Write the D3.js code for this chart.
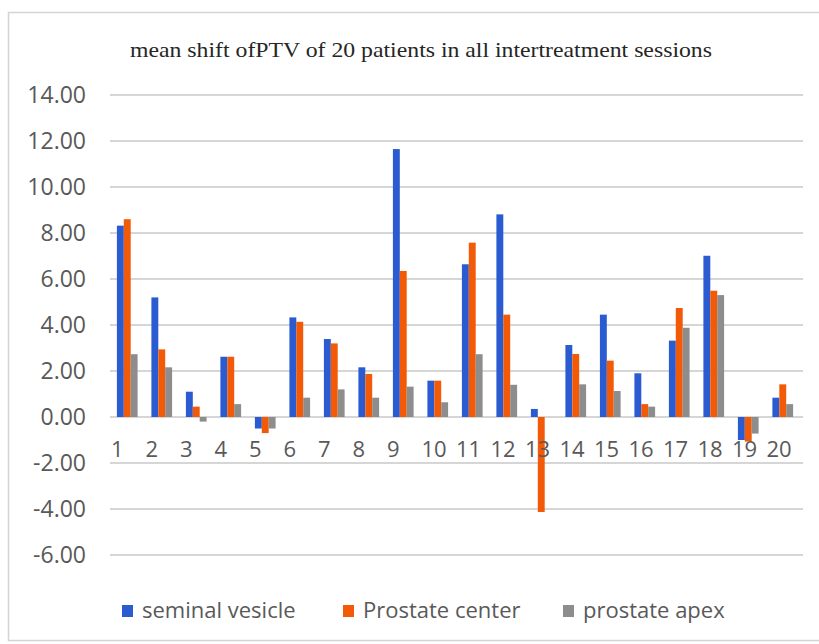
<!DOCTYPE html>
<html>
<head>
<meta charset="utf-8">
<script src="https://cdn.jsdelivr.net/npm/d3@7"></script>
<style>
  html, body { margin: 0; padding: 0; background: #ffffff; }
  svg { display: block; }
</style>
</head>
<body>
<svg id="chart" width="819" height="644"></svg>
<script>
// ---- data ----
const titleText = "mean shift ofPTV of 20 patients in all intertreatment sessions";
const categories = ["1","2","3","4","5","6","7","8","9","10","11","12","13","14","15","16","17","18","19","20"];
const seriesNames = ["seminal vesicle", "Prostate center", "prostate apex"];
const seminalVesicle = [8.32, 5.20, 1.10, 2.62, -0.50, 4.33, 3.39, 2.16, 11.65, 1.58, 6.64, 8.81, 0.35, 3.13, 4.45, 1.90, 3.32, 7.01, -1.00, 0.84];
const prostateCenter = [8.60, 2.94, 0.45, 2.62, -0.70, 4.14, 3.20, 1.87, 6.35, 1.58, 7.58, 4.45, -4.13, 2.74, 2.45, 0.56, 4.74, 5.49, -1.07, 1.42];
const prostateApex   = [2.73, 2.16, -0.20, 0.56, -0.50, 0.84, 1.20, 0.84, 1.32, 0.64, 2.73, 1.40, 0.00, 1.42, 1.13, 0.45, 3.88, 5.30, -0.72, 0.56];
const yTicks = [-6, -4, -2, 0, 2, 4, 6, 8, 10, 12, 14];
const colors = ["#2a5bd0", "#f25a07", "#8d8d8d"];

const seriesValues = [seminalVesicle, prostateCenter, prostateApex];

// ---- layout ----
const svg = d3.select("#chart");
const plot = { left: 110, right: 803, top: 95, bottom: 555 };

// frame
svg.append("rect")
  .attr("x", 8.5).attr("y", 12.5)
  .attr("width", 830).attr("height", 628)
  .attr("fill", "#ffffff")
  .attr("stroke", "#d4d4d4").attr("stroke-width", 1.5);

// title
svg.append("text")
  .attr("x", 130).attr("y", 57)
  .attr("font-family", "'Liberation Serif', 'Times New Roman', serif")
  .attr("font-size", 21)
  .attr("fill", "#262626")
  .attr("textLength", 582)
  .attr("lengthAdjust", "spacingAndGlyphs")
  .text(titleText);

const x = d3.scaleBand()
  .domain(categories)
  .range([plot.left, plot.right - 3])
  .paddingInner(0.4)
  .paddingOuter(0.2);

const xInner = d3.scaleBand()
  .domain(d3.range(seriesNames.length))
  .range([0, x.bandwidth()]);

const y = d3.scaleLinear()
  .domain([-6, 14])
  .range([plot.bottom, plot.top]);

// gridlines
svg.append("g")
  .selectAll("line")
  .data(yTicks)
  .join("line")
  .attr("x1", plot.left).attr("x2", plot.right)
  .attr("y1", d => y(d)).attr("y2", d => y(d))
  .attr("stroke", "#c8c8c8").attr("stroke-width", 1.5);

// y axis labels (hyphen minus, as in the reference)
const fmt = d3.format(".2f");
const yAxis = d3.axisLeft(y).tickValues(yTicks)
  .tickFormat(d => fmt(d).replace("\u2212", "-"))
  .tickSize(0).tickPadding(0);
const gy = svg.append("g").attr("transform", "translate(86,0)").call(yAxis);
gy.select(".domain").remove();
gy.selectAll("text")
  .attr("font-family", "'Open Sans', sans-serif")
  .attr("font-size", 23)
  .attr("fill", "#595959");

// bars
const groups = svg.append("g")
  .selectAll("g")
  .data(categories)
  .join("g")
  .attr("transform", d => `translate(${x(d)},0)`);

groups.selectAll("rect")
  .data((d, i) => seriesValues.map((s, k) => ({ k, v: s[i] })))
  .join("rect")
  .attr("x", d => xInner(d.k))
  .attr("width", xInner.bandwidth())
  .attr("y", d => Math.min(y(d.v), y(0)))
  .attr("height", d => Math.abs(y(d.v) - y(0)))
  .attr("fill", d => colors[d.k]);

// x labels (next to axis)
svg.append("g")
  .selectAll("text")
  .data(categories)
  .join("text")
  .attr("x", d => x(d) - 6)
  .attr("y", 457)
  .attr("font-family", "'Open Sans', sans-serif")
  .attr("font-size", 22)
  .attr("fill", "#595959")
  .text(d => d);

// legend
const legendX = [122, 343, 563];
const legend = svg.append("g")
  .selectAll("g")
  .data(seriesNames)
  .join("g")
  .attr("transform", (d, i) => `translate(${legendX[i]},605)`);
legend.append("rect")
  .attr("width", 11).attr("height", 12)
  .attr("fill", (d, i) => colors[i]);
legend.append("text")
  .attr("x", 20).attr("y", 13)
  .attr("font-family", "'Open Sans', sans-serif")
  .attr("font-size", 22)
  .attr("fill", "#595959")
  .text(d => d);
</script>
</body>
</html>
